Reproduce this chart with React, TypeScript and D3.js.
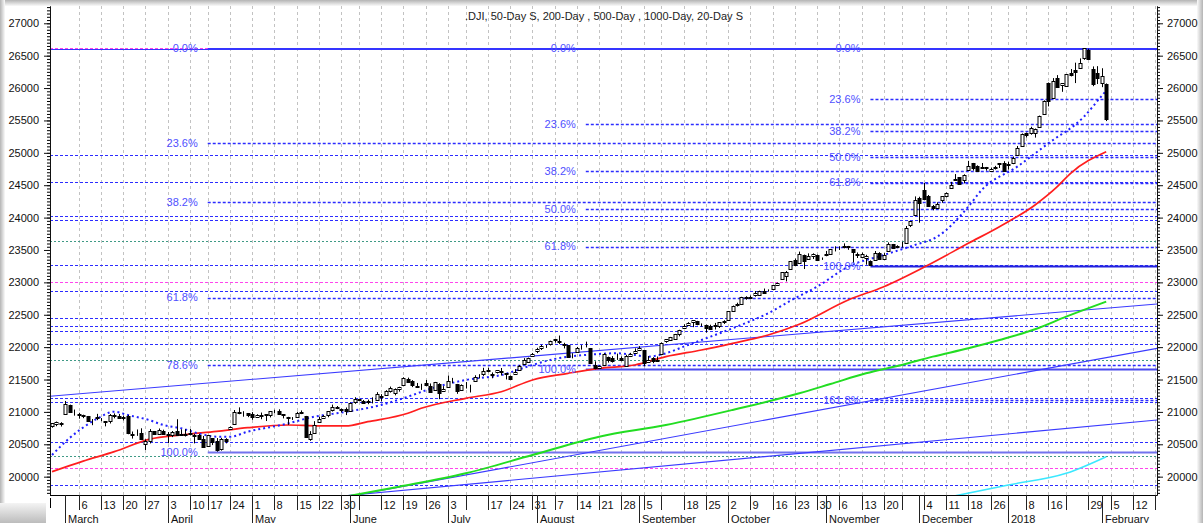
import * as d3 from 'd3';
import { useRef, useEffect } from 'react';

const FONT = "Arial, 'Liberation Sans', sans-serif";
const title = '.DJI, 50-Day S, 200-Day , 500-Day , 1000-Day, 20-Day S';

// exchange holidays inside the window
const holidays = ['2017-04-14', '2017-05-29', '2017-07-04', '2017-09-04', '2017-11-23', '2017-12-25', '2018-01-01', '2018-01-15', '2018-02-19'];
const monthNames = ['2018', 'February', 'March', 'April', 'May', 'June', 'July', 'August', 'September', 'October', 'November', 'December'];
const hiddenWeekLabels = ['2017-06-05', '2017-07-10', '2017-09-11', '2017-11-27', '2018-01-02', '2018-01-22', '2018-02-20'];
const yTickValues = [20000, 20500, 21000, 21500, 22000, 22500, 23000, 23500, 24000, 24500, 25000, 25500, 26000, 26500, 27000];

// date, open, high, low, close
const candles: [string, number, number, number, number][] = [
  ['2017-02-24', 20770, 20822, 20756, 20821], ['2017-02-27', 20808, 20851, 20779, 20837], ['2017-02-28', 20832, 20841, 20774, 20812],
  ['2017-03-01', 20957, 21169, 20957, 21115], ['2017-03-02', 21112, 21112, 20994, 21002], ['2017-03-03', 21002, 21036, 20942, 21005],
  ['2017-03-06', 20962, 20986, 20895, 20954], ['2017-03-07', 20947, 20957, 20903, 20924], ['2017-03-08', 20930, 20937, 20855, 20855],
  ['2017-03-09', 20853, 20890, 20795, 20858], ['2017-03-10', 20918, 20970, 20873, 20902], ['2017-03-13', 20883, 20905, 20857, 20881],
  ['2017-03-14', 20854, 20856, 20777, 20837], ['2017-03-15', 20854, 20967, 20821, 20950], ['2017-03-16', 20948, 20977, 20901, 20934],
  ['2017-03-17', 20938, 20968, 20906, 20914], ['2017-03-20', 20915, 20941, 20868, 20905], ['2017-03-21', 20936, 20953, 20655, 20668],
  ['2017-03-22', 20646, 20697, 20588, 20661], ['2017-03-23', 20656, 20729, 20630, 20656], ['2017-03-24', 20681, 20747, 20567, 20596],
  ['2017-03-27', 20498, 20577, 20412, 20550], ['2017-03-28', 20546, 20735, 20513, 20701], ['2017-03-29', 20704, 20704, 20650, 20659],
  ['2017-03-30', 20659, 20744, 20659, 20728], ['2017-03-31', 20708, 20725, 20657, 20663], ['2017-04-03', 20665, 20689, 20517, 20650],
  ['2017-04-04', 20637, 20705, 20611, 20689], ['2017-04-05', 20709, 20887, 20641, 20648], ['2017-04-06', 20646, 20731, 20634, 20662],
  ['2017-04-07', 20636, 20733, 20620, 20656], ['2017-04-10', 20672, 20736, 20637, 20658], ['2017-04-11', 20629, 20661, 20514, 20651],
  ['2017-04-12', 20646, 20660, 20582, 20591], ['2017-04-13', 20582, 20629, 20453, 20453], ['2017-04-17', 20473, 20643, 20471, 20636],
  ['2017-04-18', 20590, 20590, 20488, 20523], ['2017-04-19', 20547, 20596, 20386, 20404], ['2017-04-20', 20423, 20599, 20402, 20578],
  ['2017-04-21', 20575, 20594, 20514, 20548], ['2017-04-24', 20725, 20776, 20725, 20763], ['2017-04-25', 20810, 21029, 20806, 20996],
  ['2017-04-26', 20994, 21070, 20964, 20975], ['2017-04-27', 20977, 21011, 20926, 20981], ['2017-04-28', 20979, 20980, 20919, 20941],
  ['2017-05-01', 20962, 20997, 20878, 20913], ['2017-05-02', 20923, 20964, 20911, 20950], ['2017-05-03', 20939, 20990, 20887, 20957],
  ['2017-05-04', 20963, 20963, 20859, 20951], ['2017-05-05', 20950, 21008, 20915, 21007], ['2017-05-08', 21006, 21033, 20978, 21013],
  ['2017-05-09', 21020, 21040, 20964, 20975], ['2017-05-10', 20963, 20963, 20900, 20943], ['2017-05-11', 20904, 20924, 20800, 20919],
  ['2017-05-12', 20895, 20920, 20876, 20897], ['2017-05-15', 20923, 21002, 20923, 20982], ['2017-05-16', 20993, 21023, 20966, 20980],
  ['2017-05-17', 20938, 20938, 20606, 20607], ['2017-05-18', 20590, 20703, 20554, 20663], ['2017-05-19', 20678, 20857, 20678, 20805],
  ['2017-05-22', 20840, 20924, 20840, 20894], ['2017-05-23', 20907, 20951, 20891, 20937], ['2017-05-24', 20949, 21012, 20917, 21012],
  ['2017-05-25', 21039, 21113, 21006, 21083], ['2017-05-26', 21069, 21091, 21043, 21080], ['2017-05-30', 21052, 21052, 20991, 21029],
  ['2017-05-31', 21046, 21068, 20951, 21009], ['2017-06-01', 21023, 21145, 21023, 21144], ['2017-06-02', 21161, 21226, 21125, 21206],
  ['2017-06-05', 21196, 21201, 21164, 21184], ['2017-06-06', 21174, 21184, 21131, 21136], ['2017-06-07', 21150, 21190, 21119, 21173],
  ['2017-06-08', 21181, 21225, 21131, 21182], ['2017-06-09', 21178, 21305, 21178, 21272], ['2017-06-12', 21248, 21274, 21161, 21236],
  ['2017-06-13', 21263, 21336, 21263, 21328], ['2017-06-14', 21330, 21391, 21298, 21374], ['2017-06-15', 21294, 21363, 21256, 21360],
  ['2017-06-16', 21351, 21388, 21313, 21384], ['2017-06-19', 21427, 21535, 21427, 21528], ['2017-06-20', 21514, 21529, 21467, 21467],
  ['2017-06-21', 21477, 21491, 21383, 21410], ['2017-06-22', 21406, 21447, 21377, 21397], ['2017-06-23', 21402, 21434, 21340, 21395],
  ['2017-06-26', 21445, 21493, 21397, 21409], ['2017-06-27', 21400, 21439, 21310, 21311], ['2017-06-28', 21330, 21463, 21330, 21455],
  ['2017-06-29', 21433, 21443, 21197, 21288], ['2017-06-30', 21315, 21398, 21315, 21350], ['2017-07-03', 21392, 21562, 21392, 21479],
  ['2017-07-05', 21477, 21525, 21442, 21479], ['2017-07-06', 21432, 21432, 21279, 21321], ['2017-07-07', 21340, 21425, 21334, 21414],
  ['2017-07-10', 21415, 21461, 21361, 21409], ['2017-07-11', 21411, 21419, 21300, 21409], ['2017-07-12', 21470, 21566, 21470, 21533],
  ['2017-07-13', 21548, 21582, 21516, 21553], ['2017-07-14', 21586, 21681, 21556, 21638], ['2017-07-17', 21650, 21681, 21612, 21630],
  ['2017-07-18', 21583, 21610, 21519, 21575], ['2017-07-19', 21605, 21645, 21593, 21641], ['2017-07-20', 21631, 21678, 21562, 21611],
  ['2017-07-21', 21595, 21595, 21501, 21580], ['2017-07-24', 21558, 21563, 21492, 21513], ['2017-07-25', 21577, 21660, 21577, 21613],
  ['2017-07-26', 21653, 21725, 21653, 21711], ['2017-07-27', 21738, 21830, 21738, 21797], ['2017-07-28', 21773, 21839, 21762, 21830],
  ['2017-07-31', 21853, 21910, 21853, 21891], ['2017-08-01', 21928, 21990, 21907, 21964], ['2017-08-02', 21990, 22036, 21956, 22016],
  ['2017-08-03', 22022, 22034, 21988, 22026], ['2017-08-04', 22045, 22100, 22025, 22092], ['2017-08-07', 22104, 22119, 22070, 22118],
  ['2017-08-08', 22094, 22179, 22047, 22085], ['2017-08-09', 22035, 22067, 21980, 22048], ['2017-08-10', 22028, 22028, 21843, 21844],
  ['2017-08-11', 21851, 21906, 21827, 21858], ['2017-08-14', 21929, 22003, 21927, 21993], ['2017-08-15', 22003, 22031, 21961, 21998],
  ['2017-08-16', 22023, 22085, 21996, 22024], ['2017-08-17', 21987, 21987, 21749, 21750], ['2017-08-18', 21726, 21781, 21658, 21674],
  ['2017-08-21', 21675, 21717, 21665, 21703], ['2017-08-22', 21734, 21904, 21734, 21899], ['2017-08-23', 21854, 21854, 21761, 21812],
  ['2017-08-24', 21829, 21861, 21762, 21783], ['2017-08-25', 21815, 21900, 21803, 21813], ['2017-08-28', 21836, 21856, 21781, 21808],
  ['2017-08-29', 21718, 21882, 21701, 21865], ['2017-08-30', 21865, 21912, 21847, 21892], ['2017-08-31', 21912, 21981, 21912, 21948],
  ['2017-09-01', 21961, 22015, 21961, 21988], ['2017-09-05', 21949, 21956, 21704, 21753], ['2017-09-06', 21778, 21862, 21778, 21807],
  ['2017-09-07', 21828, 21845, 21752, 21784], ['2017-09-08', 21775, 21855, 21775, 21798], ['2017-09-11', 21890, 22072, 21890, 22057],
  ['2017-09-12', 22080, 22123, 22067, 22118], ['2017-09-13', 22109, 22158, 22100, 22158], ['2017-09-14', 22122, 22204, 22113, 22203],
  ['2017-09-15', 22206, 22268, 22167, 22268], ['2017-09-18', 22298, 22353, 22278, 22331], ['2017-09-19', 22346, 22385, 22345, 22370],
  ['2017-09-20', 22386, 22412, 22308, 22412], ['2017-09-21', 22405, 22406, 22338, 22359], ['2017-09-22', 22354, 22366, 22317, 22349],
  ['2017-09-25', 22343, 22348, 22224, 22296], ['2017-09-26', 22326, 22346, 22270, 22284], ['2017-09-27', 22331, 22374, 22272, 22340],
  ['2017-09-28', 22321, 22383, 22296, 22381], ['2017-09-29', 22390, 22415, 22358, 22405], ['2017-10-02', 22423, 22558, 22423, 22557],
  ['2017-10-03', 22563, 22642, 22557, 22642], ['2017-10-04', 22652, 22686, 22627, 22661], ['2017-10-05', 22665, 22777, 22663, 22775],
  ['2017-10-06', 22758, 22786, 22732, 22773], ['2017-10-09', 22774, 22797, 22740, 22761], ['2017-10-10', 22802, 22866, 22779, 22830],
  ['2017-10-11', 22817, 22872, 22807, 22872], ['2017-10-12', 22868, 22905, 22832, 22841], ['2017-10-13', 22872, 22892, 22857, 22871],
  ['2017-10-16', 22895, 22957, 22895, 22956], ['2017-10-17', 22963, 22997, 22946, 22997], ['2017-10-18', 23054, 23159, 23045, 23157],
  ['2017-10-19', 23095, 23176, 23015, 23163], ['2017-10-20', 23211, 23329, 23211, 23329], ['2017-10-23', 23345, 23368, 23268, 23273],
  ['2017-10-24', 23297, 23475, 23297, 23441], ['2017-10-25', 23429, 23429, 23206, 23329], ['2017-10-26', 23353, 23448, 23353, 23401],
  ['2017-10-27', 23410, 23448, 23360, 23434], ['2017-10-30', 23419, 23429, 23329, 23348], ['2017-10-31', 23375, 23384, 23347, 23377],
  ['2017-11-01', 23414, 23485, 23403, 23435], ['2017-11-02', 23433, 23516, 23424, 23516], ['2017-11-03', 23544, 23557, 23478, 23539],
  ['2017-11-06', 23541, 23557, 23500, 23548], ['2017-11-07', 23568, 23602, 23525, 23557], ['2017-11-08', 23550, 23563, 23502, 23563],
  ['2017-11-09', 23509, 23509, 23300, 23462], ['2017-11-10', 23443, 23462, 23376, 23422], ['2017-11-13', 23392, 23460, 23381, 23440],
  ['2017-11-14', 23378, 23426, 23273, 23409], ['2017-11-15', 23336, 23339, 23258, 23271], ['2017-11-16', 23345, 23484, 23345, 23458],
  ['2017-11-17', 23447, 23466, 23358, 23358], ['2017-11-20', 23370, 23452, 23370, 23430], ['2017-11-21', 23478, 23617, 23478, 23590],
  ['2017-11-22', 23593, 23593, 23518, 23526], ['2017-11-24', 23536, 23573, 23527, 23558], ['2017-11-27', 23575, 23627, 23537, 23580],
  ['2017-11-28', 23611, 23870, 23611, 23836], ['2017-11-29', 23874, 23941, 23854, 23940], ['2017-11-30', 24037, 24327, 24037, 24272],
  ['2017-12-01', 24305, 24322, 23921, 24231], ['2017-12-04', 24424, 24534, 24283, 24290], ['2017-12-05', 24335, 24349, 24169, 24180],
  ['2017-12-06', 24176, 24195, 24113, 24140], ['2017-12-07', 24148, 24236, 24136, 24211], ['2017-12-08', 24260, 24330, 24229, 24329],
  ['2017-12-11', 24344, 24388, 24311, 24387], ['2017-12-12', 24452, 24552, 24452, 24504], ['2017-12-13', 24593, 24672, 24584, 24585],
  ['2017-12-14', 24620, 24621, 24508, 24509], ['2017-12-15', 24575, 24668, 24528, 24652], ['2017-12-18', 24736, 24876, 24736, 24792],
  ['2017-12-19', 24836, 24844, 24726, 24754], ['2017-12-20', 24801, 24807, 24712, 24726], ['2017-12-21', 24762, 24843, 24762, 24782],
  ['2017-12-22', 24775, 24782, 24725, 24754], ['2017-12-26', 24715, 24773, 24715, 24746], ['2017-12-27', 24766, 24799, 24742, 24775],
  ['2017-12-28', 24816, 24839, 24766, 24838], ['2017-12-29', 24849, 24871, 24719, 24719], ['2018-01-02', 24809, 24864, 24742, 24824],
  ['2018-01-03', 24850, 24942, 24825, 24922], ['2018-01-04', 24964, 25106, 24964, 25075], ['2018-01-05', 25114, 25299, 25114, 25295],
  ['2018-01-08', 25308, 25311, 25236, 25283], ['2018-01-09', 25313, 25403, 25280, 25385], ['2018-01-10', 25306, 25375, 25235, 25369],
  ['2018-01-11', 25402, 25575, 25402, 25574], ['2018-01-12', 25600, 25810, 25600, 25803], ['2018-01-16', 26071, 26086, 25717, 25792],
  ['2018-01-17', 25846, 26154, 25846, 26115], ['2018-01-18', 26155, 26200, 26017, 26017], ['2018-01-19', 26040, 26072, 25942, 26071],
  ['2018-01-22', 26026, 26215, 26026, 26214], ['2018-01-23', 26234, 26294, 26180, 26210], ['2018-01-24', 26277, 26392, 26077, 26252],
  ['2018-01-25', 26313, 26458, 26313, 26392], ['2018-01-26', 26466, 26616, 26436, 26616], ['2018-01-29', 26584, 26608, 26435, 26439],
  ['2018-01-30', 26300, 26334, 26029, 26076], ['2018-01-31', 26232, 26338, 26062, 26149], ['2018-02-01', 26083, 26306, 26014, 26186],
  ['2018-02-02', 26062, 26071, 25490, 25521],
];

// moving averages
const sma50: [string, number][] = [
  ['2017-02-24', 20077], ['2017-03-07', 20240], ['2017-03-16', 20386], ['2017-03-28', 20580], ['2017-04-06', 20644],
  ['2017-04-19', 20700], ['2017-04-28', 20756], ['2017-05-11', 20798], ['2017-05-22', 20783], ['2017-05-31', 20783],
  ['2017-06-07', 20849], ['2017-06-20', 20979], ['2017-06-23', 21056], ['2017-07-10', 21210], ['2017-07-20', 21312],
  ['2017-07-31', 21493], ['2017-08-10', 21596], ['2017-08-21', 21673], ['2017-08-31', 21724], ['2017-09-12', 21853],
  ['2017-09-22', 21956], ['2017-10-03', 22059], ['2017-10-13', 22188], ['2017-10-24', 22353], ['2017-11-08', 22728],
  ['2017-11-20', 22933], ['2017-12-05', 23268], ['2017-12-18', 23603], ['2017-12-28', 23860], ['2018-01-10', 24195],
  ['2018-01-18', 24477], ['2018-01-23', 24684], ['2018-02-02', 25017],
];
const sma20: [string, number][] = [
  ['2017-02-24', 20335], ['2017-03-02', 20600], ['2017-03-07', 20760], ['2017-03-10', 20890], ['2017-03-16', 21004],
  ['2017-03-21', 20953], ['2017-03-28', 20870], ['2017-03-31', 20798], ['2017-04-06', 20747], ['2017-04-12', 20667],
  ['2017-04-19', 20617], ['2017-04-24', 20617], ['2017-04-28', 20695], ['2017-05-10', 20805], ['2017-05-19', 20926],
  ['2017-05-31', 21000], ['2017-06-12', 21107], ['2017-06-20', 21235], ['2017-06-27', 21355], ['2017-07-10', 21493],
  ['2017-07-20', 21570], ['2017-07-31', 21724], ['2017-08-04', 21802], ['2017-08-10', 21853], ['2017-08-16', 21879],
  ['2017-08-25', 21905], ['2017-08-31', 21879], ['2017-09-06', 21853], ['2017-09-12', 21905], ['2017-09-18', 22007],
  ['2017-09-22', 22110], ['2017-10-03', 22291], ['2017-10-13', 22523], ['2017-10-23', 22754], ['2017-10-30', 22933],
  ['2017-11-08', 23242], ['2017-11-20', 23423], ['2017-11-30', 23577], ['2017-12-07', 23705], ['2017-12-18', 24168],
  ['2017-12-21', 24426], ['2018-01-04', 24786], ['2018-01-16', 25147], ['2018-01-26', 25558], ['2018-02-01', 25880],
  ['2018-02-02', 25960],
];
const ma200: [string, number][] = [
  ['2017-05-30', 19680], ['2017-06-16', 19845], ['2017-07-10', 20052], ['2017-07-31', 20335], ['2017-08-21', 20617],
  ['2017-09-12', 20798], ['2017-10-03', 21030], ['2017-10-24', 21287], ['2017-11-02', 21430], ['2017-11-14', 21596],
  ['2017-11-27', 21724], ['2017-12-06', 21853], ['2017-12-18', 21982], ['2017-12-28', 22110], ['2018-01-10', 22276],
  ['2018-01-22', 22470], ['2018-02-02', 22702],
];
const ma500: [string, number][] = [
  ['2017-12-12', 19690], ['2018-01-02', 19872], ['2018-01-22', 20052], ['2018-02-02', 20309],
];

// trend lines: two anchor points each, extended over the plot
const trendLines: [string, number][][] = [
  [['2017-02-24', 21245], ['2018-02-02', 22600]],
  [['2017-06-16', 19838], ['2018-02-02', 21838]],
  [['2017-06-16', 19783], ['2018-02-02', 20802]],
];

// horizontal support / resistance levels
const blueLevels = [24967, 24554, 24030, 23963, 23268, 22867, 22445, 22331, 22253, 22044, 21211, 21149, 20532, 19873];
const greenLevels = [23644, 21802, 20320];
const pinkLevels = [26625, 23010, 20139];
const topLevel = 26600;

// fibonacci retracements, all from the 26616 top
const fibHigh = 26616;
const fibLows = [20386, 21658, 23258];
const fibStarts = ['2017-04-17', '2017-08-16', '2017-11-15'];
const fibLevels = [
  [0, 23.6, 38.2, 61.8, 78.6, 100],
  [0, 23.6, 38.2, 50, 61.8, 100],
  [0, 23.6, 38.2, 50, 61.8, 100, 161.8],
];
const fibBaseColors = ['#7373ee', '#4b4bee', '#2222dd'];

const W = 1203;
const H = 523;
const M = { left: 50, right: 1157, top: 6, bottom: 495 };

const App = () => {
  const svgRef = useRef<SVGSVGElement>(null);

  useEffect(() => {
    const svg = d3.select(svgRef.current);
    svg.selectAll('*').remove();

    const fmt = d3.timeFormat('%Y-%m-%d');
    const days = d3.timeDay.range(new Date(2017, 1, 24), new Date(2018, 1, 24))
      .filter(d => d.getDay() !== 0 && d.getDay() !== 6 && !holidays.includes(fmt(d)));
    const pos = new Map(days.map((d, i) => [fmt(d), i] as [string, number]));

    const x = d3.scaleLinear().domain([-0.46, 248.42]).range([M.left, M.right]);
    const y = d3.scaleLinear().domain([19717, 27267]).range([M.bottom, M.top]);
    const px = (s: string) => x(pos.get(s) ?? 0);
    const crisp = (v: number) => Math.round(v) + 0.5;

    // window shadow around the capture
    const defs = svg.append('defs');
    const grad = (id: string, x2: string, y2: string, c0: string, c1: string) => {
      const g = defs.append('linearGradient').attr('id', id).attr('x1', '0').attr('y1', '0').attr('x2', x2).attr('y2', y2);
      g.append('stop').attr('offset', '0').attr('stop-color', c0);
      g.append('stop').attr('offset', '1').attr('stop-color', c1);
    };
    grad('gTop', '0', '1', '#b4b4b4', '#fafafa');
    grad('gLeft', '1', '0', '#b4b4b4', '#fafafa');
    grad('gRight', '1', '0', '#fafafa', '#b4b4b4');
    grad('gCorner', '0', '1', '#f4f4f4', '#bcbcbc');
    defs.append('clipPath').attr('id', 'plotClip')
      .append('rect').attr('x', M.left).attr('y', M.top).attr('width', M.right - M.left).attr('height', M.bottom - M.top);

    svg.append('rect').attr('width', W).attr('height', H).attr('fill', '#fff');
    svg.append('rect').attr('width', W).attr('height', 6).attr('fill', 'url(#gTop)');
    svg.append('rect').attr('width', 5).attr('height', H).attr('fill', 'url(#gLeft)');
    svg.append('rect').attr('x', W - 6).attr('width', 6).attr('height', H).attr('fill', 'url(#gRight)');
    svg.append('rect').attr('x', 0).attr('y', 503).attr('width', 46).attr('height', 20).attr('fill', 'url(#gCorner)');

    const plot = svg.append('g').attr('clip-path', 'url(#plotClip)');

    // weekly / monthly ticks
    const weekTicks = days.filter((d, i) => i > 0 && fmt(d) !== '2017-02-27'
      && +d3.timeMonday.floor(d) !== +d3.timeMonday.floor(days[i - 1]));
    const monthTicks = days.filter((d, i) => i > 0 && d.getMonth() !== days[i - 1].getMonth());

    plot.selectAll('line.grid')
      .data(weekTicks)
      .enter().append('line')
      .attr('x1', d => crisp(px(fmt(d)))).attr('x2', d => crisp(px(fmt(d))))
      .attr('y1', M.top).attr('y2', M.bottom)
      .attr('stroke', '#c2c2c2').attr('stroke-dasharray', '3,3');

    const hline = (v: number, x0: number, color: string, dash: string | null, width: number) => {
      const l = plot.append('line')
        .attr('x1', x0).attr('x2', M.right)
        .attr('y1', crisp(y(v))).attr('y2', crisp(y(v)))
        .attr('stroke', color).attr('stroke-width', width);
      if (dash) l.attr('stroke-dasharray', dash);
    };

    blueLevels.forEach(v => hline(v, M.left, '#2c2cff', '3,2', 1.2));
    greenLevels.forEach(v => hline(v, M.left, '#3f9a86', '2,2', 1));
    pinkLevels.forEach(v => hline(v, M.left, '#ff44ee', '3,2', 1.2));
    hline(topLevel, M.left, '#3535ff', null, 1.2);

    // fibonacci lines
    fibLows.forEach((low, k) => {
      const x0 = px(fibStarts[k]);
      fibLevels[k].forEach(p => {
        const v = fibHigh - (fibHigh - low) * p / 100;
        if (p === 100) hline(v, x0, fibBaseColors[k], null, 2);
        else if (p === 0) hline(v, x0, '#3535ff', null, 1.2);
        else hline(v, x0, '#2c2cff', '3,2', 1.3);
      });
    });

    // trend lines
    const [d0, d1] = x.domain();
    trendLines.forEach(([a, b]) => {
      const ia = pos.get(a[0]) ?? 0;
      const ib = pos.get(b[0]) ?? 0;
      const slope = (b[1] - a[1]) / (ib - ia);
      plot.append('line')
        .attr('x1', x(d0)).attr('y1', y(a[1] + (d0 - ia) * slope))
        .attr('x2', x(d1)).attr('y2', y(a[1] + (d1 - ia) * slope))
        .attr('stroke', '#3a3aff').attr('stroke-width', 1.1);
    });

    // moving averages
    const line = d3.line<[string, number]>()
      .x(d => px(d[0]))
      .y(d => y(d[1]))
      .curve(d3.curveMonotoneX);
    plot.append('path').datum(ma500).attr('d', line).attr('fill', 'none').attr('stroke', '#3ae8ff').attr('stroke-width', 1.6);
    plot.append('path').datum(ma200).attr('d', line).attr('fill', 'none').attr('stroke', '#22dd22').attr('stroke-width', 2);
    plot.append('path').datum(sma50).attr('d', line).attr('fill', 'none').attr('stroke', '#ff1e1e').attr('stroke-width', 1.7);
    plot.append('path').datum(sma20).attr('d', line).attr('fill', 'none').attr('stroke', '#2020ff')
      .attr('stroke-width', 2).attr('stroke-dasharray', '2,3');

    // candles
    const cg = plot.append('g').selectAll('g')
      .data(candles)
      .enter().append('g');
    cg.append('line')
      .attr('x1', d => crisp(px(d[0]))).attr('x2', d => crisp(px(d[0])))
      .attr('y1', d => y(d[2])).attr('y2', d => y(d[3]))
      .attr('stroke', '#000');
    cg.append('rect')
      .attr('x', d => crisp(px(d[0])) - 1.5)
      .attr('y', d => Math.round(y(Math.max(d[1], d[4]))) + 0.5)
      .attr('width', 3)
      .attr('height', d => Math.max(0, Math.round(Math.abs(y(d[1]) - y(d[4])))))
      .attr('fill', d => (d[4] >= d[1] ? '#fff' : '#000'))
      .attr('stroke', '#000').attr('stroke-width', 1);

    // fibonacci labels
    fibLows.forEach((low, k) => {
      const x0 = px(fibStarts[k]);
      svg.append('g').selectAll('text')
        .data(fibLevels[k])
        .enter().append('text')
        .attr('x', x0 - 10)
        .attr('y', p => y(fibHigh - (fibHigh - low) * p / 100))
        .attr('dy', '0.35em')
        .attr('text-anchor', 'end')
        .attr('font-family', FONT).attr('font-size', 11)
        .attr('fill', '#4f4fff')
        .text(p => `${p.toFixed(1)}%`);
    });

    // y axes
    const yMinor = d3.range(19750, 27267, 50);
    const axisStyle = (g: any) => g.attr('font-family', FONT).attr('font-size', 11).attr('color', '#111');
    svg.append('g').attr('transform', `translate(${M.left},0)`)
      .call(d3.axisLeft(y).tickValues(yMinor).tickSize(3).tickSizeOuter(0).tickFormat(() => ''));
    svg.append('g').attr('transform', `translate(${M.left},0)`)
      .call(d3.axisLeft(y).tickValues(yTickValues).tickSize(6).tickPadding(5).tickSizeOuter(0).tickFormat(d3.format('d')))
      .call(axisStyle);
    svg.append('g').attr('transform', `translate(${M.right},0)`)
      .call(d3.axisRight(y).tickValues(yMinor).tickSize(3).tickSizeOuter(0).tickFormat(() => ''));
    svg.append('g').attr('transform', `translate(${M.right},0)`)
      .call(d3.axisRight(y).tickValues(yTickValues).tickSize(6).tickPadding(4).tickSizeOuter(0).tickFormat(d3.format('d')))
      .call(axisStyle);

    // date band
    const band = svg.append('g').attr('font-family', FONT).attr('font-size', 11).attr('fill', '#111');
    band.append('line').attr('x1', M.left).attr('x2', M.right).attr('y1', M.bottom + 0.5).attr('y2', M.bottom + 0.5).attr('stroke', '#000');
    band.append('line').attr('x1', M.left + 0.5).attr('x2', M.left + 0.5).attr('y1', 498).attr('y2', 508).attr('stroke', '#000');
    band.selectAll('line.week')
      .data(weekTicks)
      .enter().append('line')
      .attr('x1', d => crisp(px(fmt(d)))).attr('x2', d => crisp(px(fmt(d))))
      .attr('y1', M.bottom).attr('y2', 510)
      .attr('stroke', '#222');
    band.selectAll('text.week')
      .data(weekTicks.filter(d => !hiddenWeekLabels.includes(fmt(d))))
      .enter().append('text')
      .attr('x', d => crisp(px(fmt(d))) + 2)
      .attr('y', 508.5)
      .text(d => d.getDate());
    band.selectAll('line.month')
      .data(monthTicks)
      .enter().append('line')
      .attr('x1', d => crisp(px(fmt(d)))).attr('x2', d => crisp(px(fmt(d))))
      .attr('y1', M.bottom).attr('y2', H)
      .attr('stroke', '#222');
    band.selectAll('text.month')
      .data(monthTicks)
      .enter().append('text')
      .attr('x', d => crisp(px(fmt(d))) + 2.5)
      .attr('y', 522.5)
      .text(d => monthNames[d.getMonth()]);

    svg.append('text')
      .attr('x', 604).attr('y', 19.5)
      .attr('text-anchor', 'middle')
      .attr('font-family', FONT).attr('font-size', 11)
      .attr('fill', '#222')
      .text(title);
  }, []);

  return (
    <svg ref={svgRef} width={W} height={H} style={{ position: 'absolute', left: 0, top: 0, display: 'block' }}></svg>
  );
};

export default App;
